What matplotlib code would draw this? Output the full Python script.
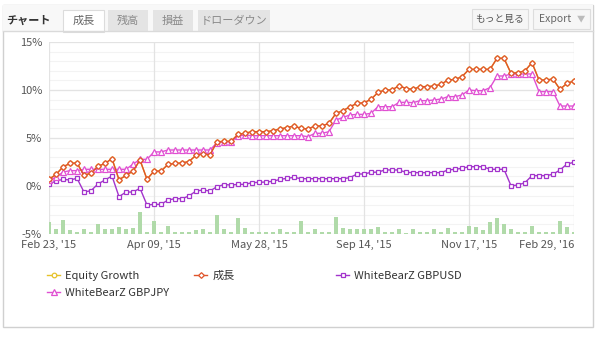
import matplotlib
matplotlib.use("Agg")
import matplotlib.pyplot as plt
from matplotlib.patches import Rectangle
from matplotlib.lines import Line2D
import numpy as np

plt.rcParams['font.family'] = ['Noto Sans CJK JP', 'DejaVu Sans']

# weekly points, Feb 23 '15 .. Feb 29 '16 (percent)
growth = [0.7, 1.2, 2.0, 2.35, 2.4, 1.1, 1.35, 2.05, 2.35, 2.85, 0.65, 1.1, 1.55, 2.7, 0.7,
          1.55, 1.55, 2.25, 2.35, 2.4, 2.55, 3.2, 3.35, 3.25, 4.6, 4.65,
          4.65, 5.38, 5.49, 5.66, 5.66, 5.66, 5.76, 5.94, 6.08, 6.25, 6.0, 5.94, 6.25, 6.25,
          6.53, 7.57, 7.85, 8.26, 8.6, 8.67, 9.03, 9.75, 10.0, 10.0, 10.45,
          10.15, 10.07, 10.35, 10.35, 10.42, 10.59, 11.04, 11.1, 11.39, 12.15, 12.15, 12.15,
          12.15, 13.3, 13.3, 11.74, 11.8, 12.0, 12.85, 11.04, 11.04, 11.14, 10.07, 10.7, 10.94]
equity = list(growth)  # Equity Growth runs under 成長
gbpusd = [0.21, 0.52, 0.69, 0.63, 0.8, -0.63, -0.49, 0.21, 0.63, 1.04, -1.11, -0.63, -0.63,
          -0.24, -1.98, -1.91, -1.91, -1.46, -1.32, -1.32, -1.04, -0.52, -0.42, -0.52, -0.07, 0.15,
          0.1, 0.17, 0.17, 0.35, 0.38, 0.42, 0.49, 0.69, 0.8, 0.9, 0.76, 0.76, 0.76, 0.76,
          0.76, 0.76, 0.76, 0.87, 1.25, 1.25, 1.42, 1.45, 1.67, 1.67, 1.67,
          1.42, 1.39, 1.39, 1.39, 1.39, 1.39, 1.67, 1.74, 1.84, 2.01, 2.01, 2.01, 1.74,
          1.74, 1.74, 0.03, 0.1, 0.35, 1.08, 1.08, 1.08, 1.22, 1.67, 2.29, 2.47]
gbpjpy = [0.63, 0.9, 1.45, 1.6, 1.6, 1.74, 1.74, 1.74, 1.74, 1.74, 1.74, 1.74, 2.27, 2.78,
          2.78, 3.55, 3.55, 3.75, 3.75, 3.75, 3.75, 3.75, 3.75, 3.75, 4.51, 4.6,
          4.6, 5.21, 5.3, 5.24, 5.24, 5.24, 5.24, 5.24, 5.24, 5.24, 5.24, 5.14, 5.49, 5.49,
          5.66, 6.88, 7.15, 7.4, 7.46, 7.46, 7.57, 8.26, 8.26, 8.26, 8.7,
          8.72, 8.68, 8.89, 8.89, 8.96, 9.06, 9.31, 9.31, 9.48, 10.0, 9.93, 9.93, 10.24,
          11.46, 11.46, 11.67, 11.67, 11.67, 11.67, 9.83, 9.83, 9.83, 8.33, 8.33, 8.33]
# trade activity bars along the bottom
activity = [5, 2, 6, 1.5, 1, 2, 1, 4, 2, 2, 3, 2, 2.5, 9, 1, 5.5, 1, 3.5, 1, 1, 1, 1.5,
            2, 1, 8, 2, 1, 6.5, 2.5, 1, 1, 1, 1, 2, 1, 1, 5.5, 1, 2, 1, 1, 7, 2.5, 2, 2, 2, 2,
            3, 1, 1, 2,
            0.5, 2, 1, 1, 2, 1, 2.5, 1, 1, 3.5, 3, 1.5, 5, 6.5, 4, 2, 1, 1, 3.5, 1, 1, 1,
            5.5, 3, 1]
tick_idx = [0, 15, 30, 45, 60, 75]
tick_labels = ["Feb 23, '15", "Apr 09, '15", "May 28, '15", "Sep 14, '15", "Nov 17, '15", "Feb 29, '16"]

x = np.arange(len(growth))

fig = plt.figure(figsize=(6, 3.38), dpi=100)
fig.patch.set_facecolor('white')

# frame, header and tabs in pixel coordinates
bg = fig.add_axes([0, 0, 1, 1], zorder=-5)
bg.set_xlim(0, 600)
bg.set_ylim(338, 0)
bg.axis('off')
bg.add_patch(Rectangle((3, 5), 590, 322, fc='white', ec='#d0d0d0', lw=1))
bg.add_patch(Rectangle((3, 5), 590, 26, fc='#f8f8f8', ec='none'))
bg.plot([3, 593], [31, 31], color='#dadada', lw=1)
bg.add_patch(Rectangle((63, 10), 41, 21.5, fc='white', ec='#dcdcdc', lw=0.8))
for x0, w in [(108, 40), (153, 40), (198, 72)]:
    bg.add_patch(Rectangle((x0, 10), w, 21, fc='#e4e4e4', ec='none'))
bg.text(28, 20, 'チャート', ha='center', va='center', fontsize=8, color='#333333', fontweight='bold')
bg.text(83.5, 20.5, '成長', ha='center', va='center', fontsize=8, color='#666666')
for xc, s in [(128, '残高'), (173, '損益'), (234, 'ドローダウン')]:
    bg.text(xc, 20.5, s, ha='center', va='center', fontsize=8, color='#8a8a8a')
bg.add_patch(Rectangle((472, 9), 56, 20, fc='#f6f6f6', ec='#dddddd', lw=0.8))
bg.add_patch(Rectangle((533, 9), 57, 20, fc='#f6f6f6', ec='#dddddd', lw=0.8))
bg.text(500, 19, 'もっと見る', ha='center', va='center', fontsize=7, color='#555555')
bg.text(555, 19, 'Export', ha='center', va='center', fontsize=7.5, color='#666666')
bg.text(581, 19, '▼', ha='center', va='center', fontsize=6, color='#bbbbbb')

ax = fig.add_axes([49 / 600, 104 / 338, 525 / 600, 192 / 338], zorder=2)
ax.patch.set_visible(False)

axb = ax.twinx()
axb.set_zorder(1)
ax.set_zorder(2)
axb.bar(x, activity, width=0.45, color='#b0daa9', zorder=1)
axb.set_ylim(0, 80)
axb.set_yticks([])
for s in axb.spines.values():
    s.set_visible(False)

ax.set_xlim(0, 75)
ax.set_ylim(-5, 15)
ax.set_yticks([-5, 0, 5, 10, 15])
ax.set_yticklabels(['-5%', '0%', '5%', '10%', '15%'])
ax.set_yticks(np.arange(-5, 15, 1), minor=True)
ax.set_xticks(tick_idx)
ax.set_xticklabels(tick_labels)
ax.tick_params(axis='both', length=0, labelsize=8, colors='#555555')
ax.tick_params(axis='y', pad=5)
ax.tick_params(axis='x', pad=4)
ax.tick_params(axis='y', which='minor', length=0)
# keep the last date inside the frame
ax.get_xticklabels()[-1].set_horizontalalignment('right')
for s in ax.spines.values():
    s.set_visible(False)

# grid drawn on the bottom axes so bars and lines sit above it
for v in np.arange(-4, 15, 1):
    axb.axhline((v + 5) * 4, color='#f3f3f3', lw=0.8, zorder=0)
for v in [-5, 0, 5, 10, 15]:
    axb.axhline((v + 5) * 4, color='#e3e3e3', lw=0.9, zorder=0)
for t in tick_idx:
    axb.axvline(t, color='#e3e3e3', lw=0.9, zorder=0)

style = dict(lw=1.0, markerfacecolor='white', markeredgewidth=0.9)
c_eq, c_gr, c_usd, c_jpy = '#e6c229', '#e0542a', '#a334cc', '#e050d2'
ax.plot(x, equity, color=c_eq, marker='o', ms=3.3, **style)
ax.plot(x, gbpusd, color=c_usd, marker='s', ms=3.3, **style)
ax.plot(x, gbpjpy, color=c_jpy, marker='^', ms=3.8, **style)
ax.plot(x, growth, color=c_gr, marker='D', ms=2.9, **style)

# legend, laid out in fixed columns
entries = [
    ('Equity Growth', c_eq, 'o', 3.3, 47, 276),
    ('成長', c_gr, 'D', 2.9, 194, 276),
    ('WhiteBearZ GBPUSD', c_usd, 's', 3.3, 336, 276),
    ('WhiteBearZ GBPJPY', c_jpy, '^', 3.8, 47, 293),
]
for label, col, mk, ms, lx, ly in entries:
    h = Line2D([], [], color=col, marker=mk, ms=ms, lw=1.0, markerfacecolor='white', markeredgewidth=0.9)
    fig.legend(handles=[h], labels=[label], loc='center left',
               bbox_to_anchor=(lx / 600, 1 - ly / 338), frameon=False,
               borderpad=0, borderaxespad=0, handlelength=1.2, handletextpad=0.45,
               fontsize=8, labelcolor='#333333')

fig.savefig('out.png', dpi=100)
